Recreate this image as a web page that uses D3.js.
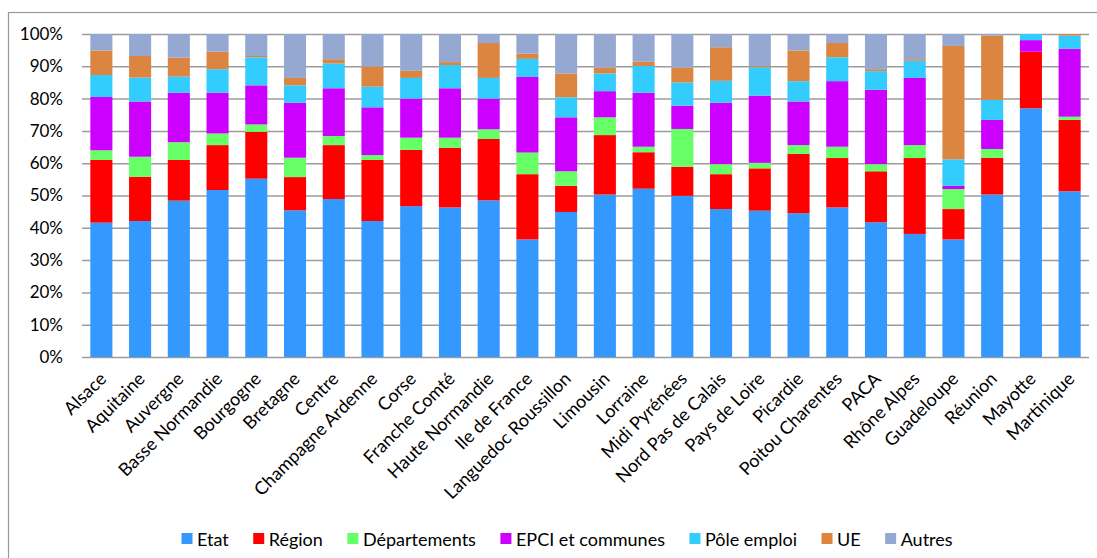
<!DOCTYPE html>
<html>
<head>
<meta charset="utf-8">
<script src="https://cdn.jsdelivr.net/npm/d3@7"></script>
<style>
  html, body { margin: 0; padding: 0; background: #fff; }
  svg { display: block; font-family: Lato, "Open Sans", sans-serif; }
</style>
</head>
<body>
<svg id="chart" width="1097" height="558"></svg>
<script>
const categories = ["Alsace","Aquitaine","Auvergne","Basse Normandie","Bourgogne","Bretagne","Centre","Champagne Ardenne","Corse","Franche Comté","Haute Normandie","Ile de France","Languedoc Roussillon","Limousin","Lorraine","Midi Pyrénées","Nord Pas de Calais","Pays de Loire","Picardie","Poitou Charentes","PACA","Rhône Alpes","Guadeloupe","Réunion","Mayotte","Martinique"];

const seriesNames = ["Etat","Région","Départements","EPCI et communes","Pôle emploi","UE","Autres"];

const etat         = [41.6,42.1,48.4,51.7,55.2,45.4,48.9,42.1,46.7,46.3,48.5,36.4,44.9,50.3,52.1,49.9,45.8,45.3,44.5,46.3,41.7,38.1,36.4,50.3,77.0,51.3];
const region       = [19.4,13.7,12.6,13.9,14.5,10.3,16.7,18.9,17.4,18.5,19.0,20.2,8.1,18.4,11.3,9.0,10.8,13.1,18.4,15.3,15.8,23.5,9.4,11.4,17.5,22.1];
const departements = [3.0,6.2,5.5,3.6,2.3,6.0,2.8,1.5,3.8,3.1,3.0,6.7,4.5,5.5,1.7,11.7,3.1,1.7,2.7,3.5,2.2,4.0,6.2,2.7,0,1.0];
const epci         = [16.5,17.1,15.3,12.6,12.1,17.0,14.8,14.8,12.1,15.3,9.5,23.4,16.7,8.1,16.7,7.2,19.0,20.8,13.5,20.3,23.0,20.8,1.0,9.0,3.6,21.0];
const poleEmploi   = [6.8,7.4,5.0,7.3,8.7,5.4,7.7,6.4,6.4,7.2,6.4,5.6,6.2,5.5,8.3,7.2,6.8,8.8,6.3,7.4,5.8,5.3,8.2,6.2,1.9,4.1];
const ue           = [7.6,6.7,5.9,5.4,0.4,2.3,1.3,6.2,2.2,0.9,10.8,1.6,7.4,1.8,1.3,4.6,10.4,0.4,9.5,4.4,0.6,0.5,35.1,19.9,0,0.5];
const autres       = [5.1,6.8,7.3,5.5,6.8,13.6,7.8,10.1,11.4,8.7,2.8,6.1,12.2,10.4,8.6,10.4,4.1,9.9,5.1,2.8,10.9,7.8,3.7,0.5,0,0];

const yTickValues = [0,0.1,0.2,0.3,0.4,0.5,0.6,0.7,0.8,0.9,1];
const yTickLabels = ["0%","10%","20%","30%","40%","50%","60%","70%","80%","90%","100%"];

const colors = ["#3399FF","#FF0000","#66FF66","#CC00FF","#33CCFF","#DB8541","#95A8D1"];

const seriesValues = [etat, region, departements, epci, poleEmploi, ue, autres];
const table = categories.map((c, i) => {
  const row = { cat: c };
  seriesNames.forEach((s, j) => row[s] = seriesValues[j][i]);
  return row;
});

const svg = d3.select("#chart");

// outer frame
svg.append("rect")
  .attr("x", 8.5).attr("y", 12.5)
  .attr("width", 1200).attr("height", 700)
  .attr("fill", "none").attr("stroke", "#9a9a9a").attr("stroke-width", 1.2);

const plotLeft = 82, plotRight = 1089, plotTop = 34, plotBottom = 357;

const x = d3.scaleBand().domain(categories).range([plotLeft, plotRight])
  .paddingInner(0.43).paddingOuter(0.215);
const y = d3.scaleLinear().domain([0, 1]).range([plotBottom, plotTop]);

// gridlines + y labels
const yAxis = d3.axisLeft(y)
  .tickValues(yTickValues)
  .tickFormat((d, i) => yTickLabels[i])
  .tickSize(-(plotRight - plotLeft))
  .tickPadding(19);
const gy = svg.append("g").attr("transform", `translate(${plotLeft},0)`).call(yAxis);
gy.select(".domain").remove();
gy.selectAll(".tick line").attr("stroke", "#9c9c9c").attr("stroke-width", 1.5);
gy.selectAll(".tick text").attr("fill", "#000").style("font-size", "17px")
  .style("font-family", "Lato, 'Open Sans', sans-serif");

// stacked bars
const stack = d3.stack().keys(seriesNames).offset(d3.stackOffsetExpand);
const layers = stack(table);

svg.append("g").selectAll("g")
  .data(layers).join("g")
  .attr("fill", (d, i) => colors[i])
  .selectAll("rect")
  .data(d => d).join("rect")
  .attr("x", d => x(d.data.cat))
  .attr("width", x.bandwidth())
  .attr("y", d => y(d[1]))
  .attr("height", d => Math.max(0, y(d[0]) - y(d[1])));

// x labels
const gx = svg.append("g");
categories.forEach(c => {
  const cx = x(c) + x.bandwidth() / 2;
  gx.append("text")
    .attr("transform", `translate(${cx + 6},${380}) rotate(-45)`)
    .attr("text-anchor", "end")
    .style("font-size", "18px")
    .attr("fill", "#000")
    .text(c);
});

// legend
const lg = svg.append("g");
let lx = 181.5;
seriesNames.forEach((s, i) => {
  lg.append("rect").attr("x", lx).attr("y", 533).attr("width", 11).attr("height", 11).attr("fill", colors[i]);
  const t = lg.append("text").attr("x", lx + 15.5).attr("y", 545.5)
    .style("font-size", "18px").attr("fill", "#000").text(s);
  lx = lx + 15.5 + t.node().getComputedTextLength() + 24.5;
});
</script>
</body>
</html>
